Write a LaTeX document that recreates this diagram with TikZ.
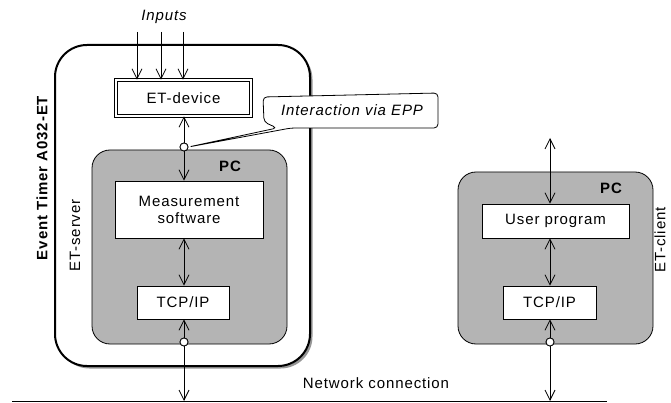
\documentclass[tikz,border=0pt]{standalone}
\usepackage{fontspec}
\setmainfont{Liberation Sans}[LetterSpace=6]
\usetikzlibrary{arrows.meta}
\tikzset{
  tipv/.tip={Straight Barb[length=10pt,width=10pt]},
  arr/.style={line width=0.8pt,-tipv},
  arrb/.style={line width=0.8pt,tipv-tipv},
  txt/.style={font=\fontsize{15}{17}\selectfont, inner sep=0pt},
  box/.style={draw, line width=0.8pt, fill=white, inner sep=0pt, font=\fontsize{15}{17}\selectfont, align=center},
  pcbox/.style={draw, line width=0.8pt, fill=pcgray, rounded corners=18pt, inner sep=0pt},
  dot/.style={circle, draw, line width=0.8pt, fill=white, minimum size=8pt, inner sep=0pt},
}
\definecolor{pcgray}{RGB}{180,180,180}
\definecolor{shadowgray}{RGB}{150,150,150}
\begin{document}
\begin{tikzpicture}[x=1pt,y=-1pt]
\useasboundingbox (0,0) rectangle (671,403);
% outer box with shadow
\node[fill=shadowgray, rounded corners=32pt, minimum width=255pt, minimum height=321pt, inner sep=0pt] (shadow) at (185,208) {};
\node[draw, line width=2pt, fill=white, rounded corners=32pt, minimum width=255pt, minimum height=321pt, inner sep=0pt] (outer) at (182.5,205.5) {};
% PC boxes
\node[pcbox, minimum width=195pt, minimum height=194pt] (pcL) at (189.5,247) {};
\node[pcbox, minimum width=195pt, minimum height=172pt] (pcR) at (555.5,258) {};
% inner boxes
\node[box, double, double distance=2pt, line width=0.6pt, minimum width=135pt, minimum height=36pt] (etdev) at (183.5,98) {ET-device};
\node[box, minimum width=148pt, minimum height=57pt] (meas) at (189,209.5) {Measurement\\software};
\node[box, minimum width=92pt, minimum height=33pt] (tcpL) at (183,302.5) {TCP/IP};
\node[box, minimum width=147pt, minimum height=34pt] (user) at (555.5,221) {User program};
\node[box, minimum width=93pt, minimum height=33pt] (tcpR) at (549.5,302.5) {TCP/IP};
% labels
\node[txt, font=\fontsize{15}{17}\selectfont\bfseries] (pcLl) at (230,166) {PC};
\node[txt, font=\fontsize{15}{17}\selectfont\bfseries] (pcRl) at (611,188) {PC};
\node[txt, font=\fontsize{15}{17}\selectfont\itshape] (inputs) at (164,17) {Inputs};
\node[txt, font=\fontsize{15}{17}\selectfont\bfseries, rotate=90] (evt) at (42,178) {Event Timer A032-ET};
\node[txt, rotate=90] (srv) at (75,235.5) {ET-server};
\node[txt, rotate=90, anchor=west] (cli) at (660,273) {ET-client};
\node[txt] (net) at (376,383) {Network connection};
% coordinates
\coordinate (in1) at (137,32);
\coordinate (in2) at (161,32);
\coordinate (in3) at (183,32);
\coordinate (ctop) at (550,138);
\coordinate (netL) at (12,401);
\coordinate (netR) at (607,401);
\node[dot] (c1) at (184,147) {};
\node[dot] (c2) at (184,342) {};
\node[dot] (c3) at (550,342) {};
% network line
\draw[line width=1pt] (netL) -- (netR);
% arrows
\draw[arr] (in1) -- (etdev.north -| in1);
\draw[arr] (in2) -- (etdev.north -| in2);
\draw[arr] (in3) -- (etdev.north -| in3);
\draw[arr] (c1) -- (etdev.south -| c1);
\draw[arr] (c1) -- (meas.north -| c1);
\draw[arrb] (meas.south -| c1) -- (tcpL.north -| c1);
\draw[arr] (c2) -- (tcpL.south -| c2);
\draw[arr] (c2) -- (c2 |- netL);
\draw[arrb] (ctop) -- (user.north -| ctop);
\draw[arrb] (user.south -| ctop) -- (tcpR.north -| ctop);
\draw[arr] (c3) -- (tcpR.south -| c3);
\draw[arr] (c3) -- (c3 |- netL);
% redraw dots on top
\node[dot] at (c1) {};
\node[dot] at (c2) {};
\node[dot] at (c3) {};
% callout
\draw[line width=0.8pt, fill=white, rounded corners=4pt] (263,97) -- (264,122) -- (277,128) -- (c1.east) -- (291,128) -- (438,128) -- (438,93) -- cycle;
\node[txt, font=\fontsize{15}{17}\selectfont\itshape] (epp) at (352,110) {Interaction via EPP};
\end{tikzpicture}
\end{document}
